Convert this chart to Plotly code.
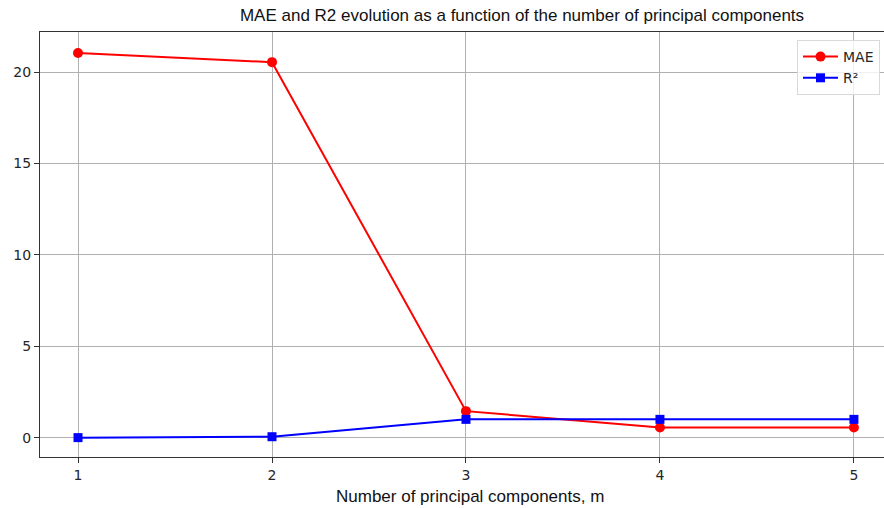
import plotly.graph_objects as go

# Number of principal components retained
components = [1, 2, 3, 4, 5]

# Error metrics per number of components
mae_values = [21.05, 20.55, 1.45, 0.55, 0.55]
r2_values = [0.0, 0.05, 1.0, 1.0, 1.0]

tick_font = dict(family="DejaVu Sans", size=14, color="#262626")
label_font = dict(family="Liberation Sans, Arial", size=17, color="#111111")

fig = go.Figure()
fig.add_trace(go.Scatter(
    x=components, y=mae_values, name="MAE", mode="lines+markers",
    line=dict(color="#ff0000", width=2),
    marker=dict(symbol="circle", size=10, color="#ff0000"),
))
fig.add_trace(go.Scatter(
    x=components, y=r2_values, name="R²", mode="lines+markers",
    line=dict(color="#0000ff", width=2),
    marker=dict(symbol="square", size=9, color="#0000ff"),
))

fig.update_layout(
    width=884, height=508,
    margin=dict(l=40, r=0, t=32, b=51),
    paper_bgcolor="white", plot_bgcolor="white",
    showlegend=True,
    title=dict(
        text="MAE and R2 evolution as a function of the number of principal components",
        x=522 / 884, xanchor="center", y=1 - 15 / 508, yanchor="middle",
        font=dict(family="Liberation Sans, Arial", size=17, color="#111111"),
    ),
    legend=dict(
        x=(797 - 40) / 844, xanchor="left", y=1 - 8 / 425, yanchor="top",
        bgcolor="rgba(255,255,255,0.8)", bordercolor="#d9d9d9", borderwidth=1,
        font=dict(family="DejaVu Sans", size=14, color="#262626"),
        itemwidth=35, tracegroupgap=4,
    ),
    xaxis=dict(
        range=[0.804, 5.155], tickvals=components,
        showgrid=True, gridcolor="#b0b0b0", gridwidth=1,
        showline=True, linecolor="#333333", linewidth=1, mirror=True,
        ticks="outside", ticklen=5, tickcolor="#333333",
        tickfont=tick_font, zeroline=False,
    ),
    yaxis=dict(
        range=[-1.06, 22.2], tickvals=[0, 5, 10, 15, 20],
        showgrid=True, gridcolor="#b0b0b0", gridwidth=1,
        showline=True, linecolor="#333333", linewidth=1,
        ticks="outside", ticklen=5, tickcolor="#333333",
        tickfont=tick_font, zeroline=False,
    ),
    annotations=[dict(
        text="Number of principal components, m",
        xref="paper", yref="paper",
        x=(470 - 40) / 844, xanchor="center",
        y=-(496 - 457) / 425, yanchor="middle",
        showarrow=False, font=label_font,
    )],
)

fig.write_html("out.html")
